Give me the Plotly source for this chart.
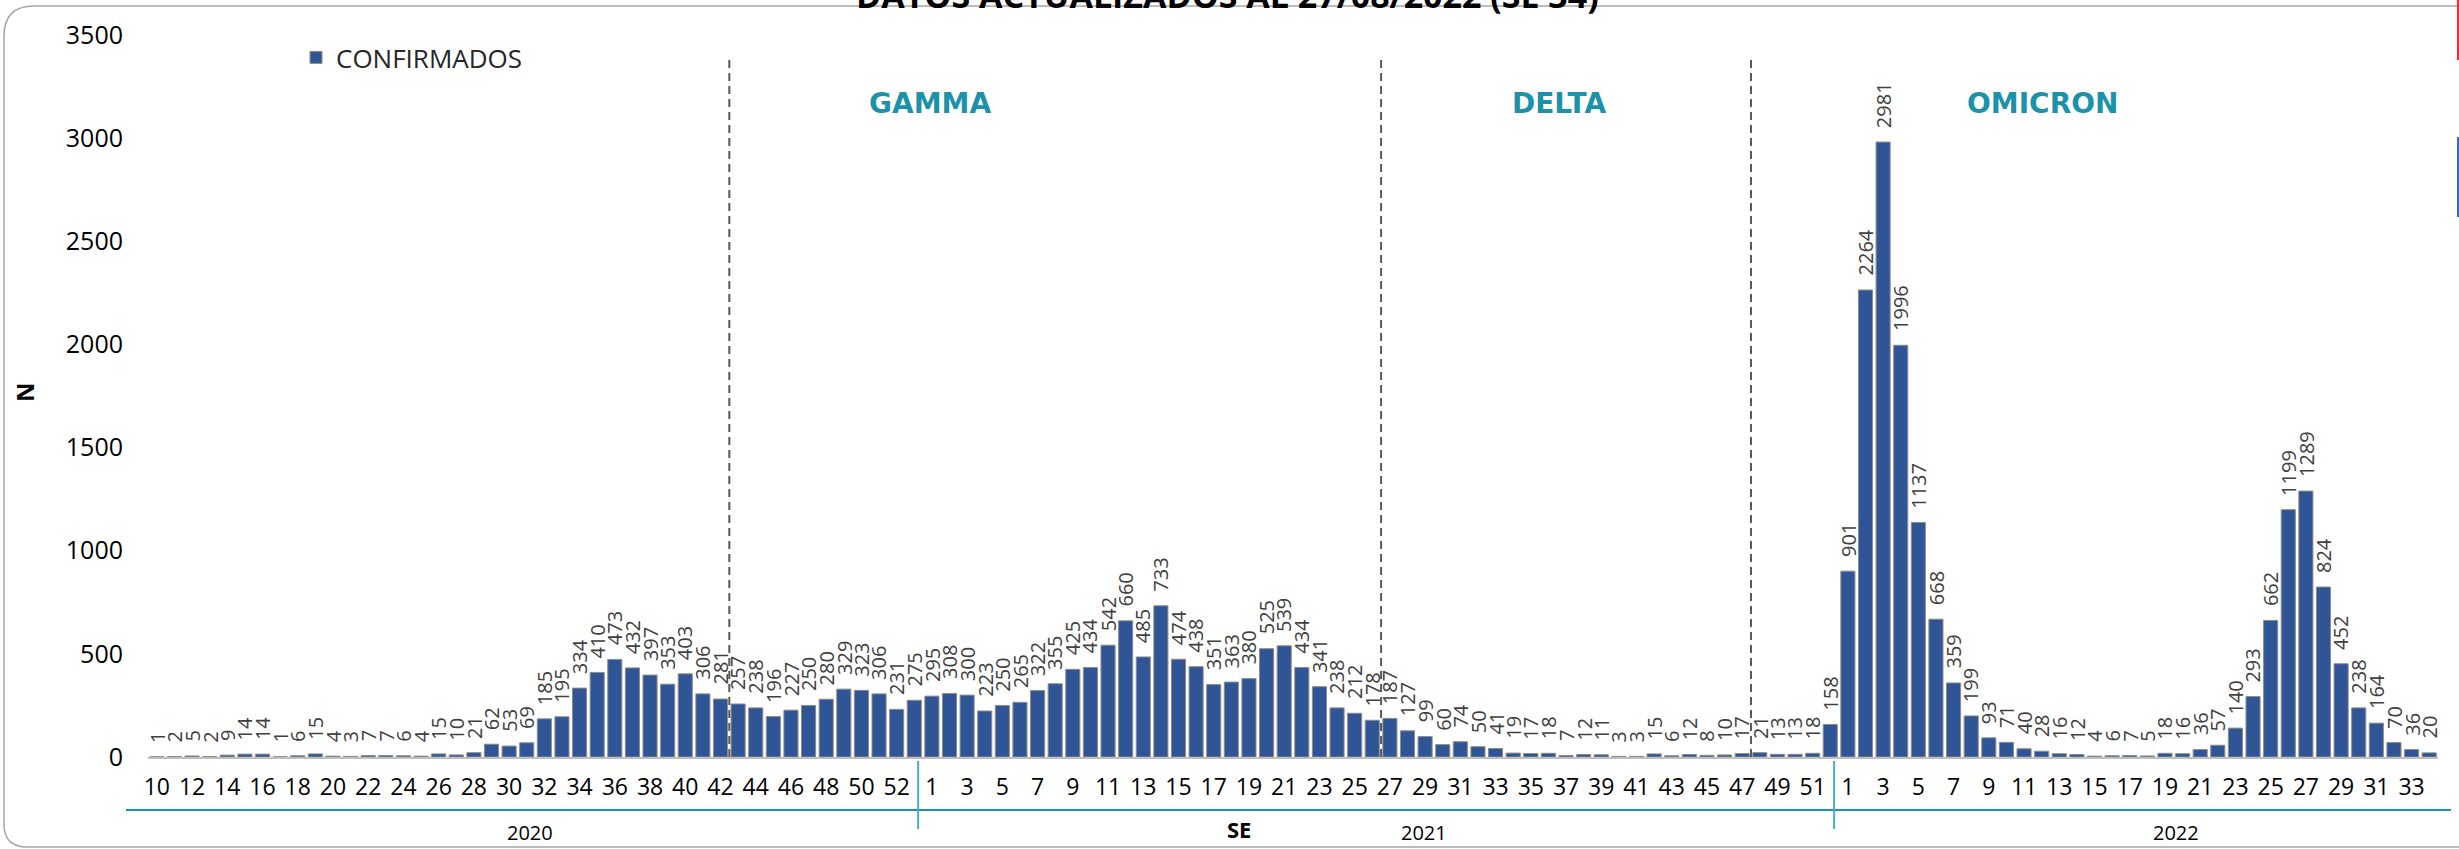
import plotly.graph_objects as go

# Weekly confirmed cases by epidemiological week (SE)
weeks_2020 = list(range(10, 54))
cases_2020 = [1, 2, 5, 2, 9, 14, 14, 1, 6, 15, 4, 3, 7, 7, 6, 4, 15, 10, 21, 62,
              53, 69, 185, 195, 334, 410, 473, 432, 397, 353, 403, 306, 281, 257,
              238, 196, 227, 250, 280, 329, 323, 306, 231, 275]
weeks_2021 = list(range(1, 53))
cases_2021 = [295, 308, 300, 223, 250, 265, 322, 355, 425, 434, 542, 660, 485, 733,
              474, 438, 351, 363, 380, 525, 539, 434, 341, 238, 212, 178, 187, 127,
              99, 60, 74, 50, 41, 19, 17, 18, 7, 12, 11, 3, 3, 15, 6, 12, 8, 10, 17,
              21, 13, 13, 18, 158]
weeks_2022 = list(range(1, 35))
cases_2022 = [901, 2264, 2981, 1996, 1137, 668, 359, 199, 93, 71, 40, 28, 16, 12, 4,
              6, 7, 5, 18, 16, 36, 57, 140, 293, 662, 1199, 1289, 824, 452, 238, 164,
              70, 36, 20]

years = ["2020", "2021", "2022"]
variants = ["GAMMA", "DELTA", "OMICRON"]
# last week before each variant period starts: (year, week)
variant_breaks = [(2020, 42), (2021, 26), (2021, 47)]

title_text = "DATOS ACTUALIZADOS AL 27/08/2022 (SE 34)"

# ---- derived sequences -------------------------------------------------
year_of = [2020] * len(weeks_2020) + [2021] * len(weeks_2021) + [2022] * len(weeks_2022)
weeks = weeks_2020 + weeks_2021 + weeks_2022
cases = cases_2020 + cases_2021 + cases_2022
idx = list(range(len(cases)))


def pos(year, week):
    for i, (y, w) in enumerate(zip(year_of, weeks)):
        if y == year and w == week:
            return i
    raise ValueError


W, H = 2459, 849
L, R, T, B = 148, 2438, 35, 757
YMAX = 3500


def px(x):
    return (x - L) / (R - L)


def py(y):
    return (B - y) / (B - T)


BAR = "#2F5597"
TEAL = "#1C91AA"
SEP = "#4BACC6"
LABEL = "#404040"
FONT = "Open Sans"

fig = go.Figure()
fig.add_trace(go.Bar(
    x=idx, y=cases, name="CONFIRMADOS", width=0.8,
    marker=dict(color=BAR, line=dict(color="#8C8C8C", width=1)),
    hoverinfo="skip",
))

annotations = []
# value labels above each bar
for i, v in zip(idx, cases):
    annotations.append(dict(
        x=i, y=v, xref="x", yref="y", text=str(v), textangle=-90,
        showarrow=False, xanchor="center", yanchor="bottom", yshift=12,
        font=dict(family=FONT, size=20, color=LABEL),
    ))

shapes = []
# dashed separators between variant periods
for (yy, ww) in variant_breaks:
    xb = pos(yy, ww) + 0.5
    shapes.append(dict(type="line", xref="x", yref="y", x0=xb, x1=xb, y0=0,
                       y1=YMAX * (B - 58) / (B - T),
                       line=dict(color="#595959", width=2, dash="8px,5px")))

# variant names
variant_x = [930, 1560, 2042]
for name, xp in zip(variants, variant_x):
    annotations.append(dict(
        x=px(xp), y=py(104), xref="paper", yref="paper", text=f"<b>{name}</b>",
        showarrow=False, xanchor="center", yanchor="middle",
        font=dict(family="DejaVu Sans", size=28, color=TEAL),
    ))

# multi-level category axis: teal rule, year dividers, year names
shapes.append(dict(type="line", xref="paper", yref="paper", x0=px(126), x1=px(2451),
                   y0=py(810), y1=py(810), line=dict(color="#1A93AD", width=2)))
for yy in (2021, 2022):
    xb = pos(yy, 1) - 0.78
    shapes.append(dict(type="line", xref="x", yref="paper", x0=xb, x1=xb,
                       y0=py(761), y1=py(829), line=dict(color=SEP, width=2)))
for yl, xp in zip(years, [530, 1424, 2176]):
    annotations.append(dict(
        x=px(xp), y=py(832), xref="paper", yref="paper", text=yl, showarrow=False,
        xanchor="center", yanchor="middle", font=dict(family=FONT, size=20, color="#000000"),
    ))
annotations.append(dict(
    x=px(1239), y=py(829), xref="paper", yref="paper", text="<b>SE</b>", showarrow=False,
    xanchor="center", yanchor="middle", font=dict(family=FONT, size=22, color="#000000"),
))
# y-axis title
annotations.append(dict(
    x=px(24), y=py(392), xref="paper", yref="paper", text="<b>N</b>", textangle=-90,
    showarrow=False, xanchor="center", yanchor="middle",
    font=dict(family=FONT, size=24, color="#000000"),
))
# chart title
annotations.append(dict(
    x=px(1227), y=py(20), xref="paper", yref="paper", text=f"<b>{title_text}</b>",
    showarrow=False, xanchor="center", yanchor="bottom",
    font=dict(family=FONT, size=34, color="#000000"),
))

# rounded chart frame (right side continues past the page edge)
def pt(x, y):
    return f"{px(x)},{py(y)}"


frame = (f"M {pt(2459, 6)} L {pt(34, 6)} Q {pt(4, 6)} {pt(4, 36)} "
         f"L {pt(4, 824)} Q {pt(4, 847)} {pt(27, 847)} L {pt(2459, 847)}")
shapes.append(dict(type="path", xref="paper", yref="paper", path=frame,
                   line=dict(color="#A6A6A6", width=1.5)))
# edges of neighbouring elements
shapes.append(dict(type="rect", xref="paper", yref="paper", x0=px(2457), x1=px(2460),
                   y0=py(0), y1=py(60), line=dict(width=0), fillcolor="#E8303A"))
shapes.append(dict(type="rect", xref="paper", yref="paper", x0=px(2457), x1=px(2460),
                   y0=py(137), y1=py(217), line=dict(width=0), fillcolor="#3F64B0"))

tickvals = [i for i in idx if i % 2 == 0]
ticktext = [str(weeks[i]) for i in tickvals]

fig.update_layout(
    width=W, height=H,
    margin=dict(l=L, r=W - R, t=T, b=H - B, pad=0),
    paper_bgcolor="white", plot_bgcolor="white",
    bargap=0.2,
    showlegend=True,
    legend=dict(x=px(296), y=py(34), xref="paper", yref="paper", xanchor="left",
                yanchor="top", font=dict(family=FONT, size=26, color="#262626"),
                bgcolor="rgba(0,0,0,0)", itemwidth=30),
    xaxis=dict(range=[-0.5, len(cases) - 0.5], tickvals=tickvals, ticktext=ticktext,
               tickangle=0, showgrid=False, zeroline=False, showline=True,
               linecolor="#BFBFBF", linewidth=2, ticks="", ticklabelstandoff=8,
               tickfont=dict(family=FONT, size=23, color="#000000")),
    yaxis=dict(range=[0, YMAX], tickvals=list(range(0, YMAX + 1, 500)), showgrid=False,
               zeroline=False, showline=False, ticks="", ticklabelstandoff=24,
               tickfont=dict(family=FONT, size=25, color="#000000")),
    annotations=annotations,
    shapes=shapes,
)

fig.write_html("out.html")
